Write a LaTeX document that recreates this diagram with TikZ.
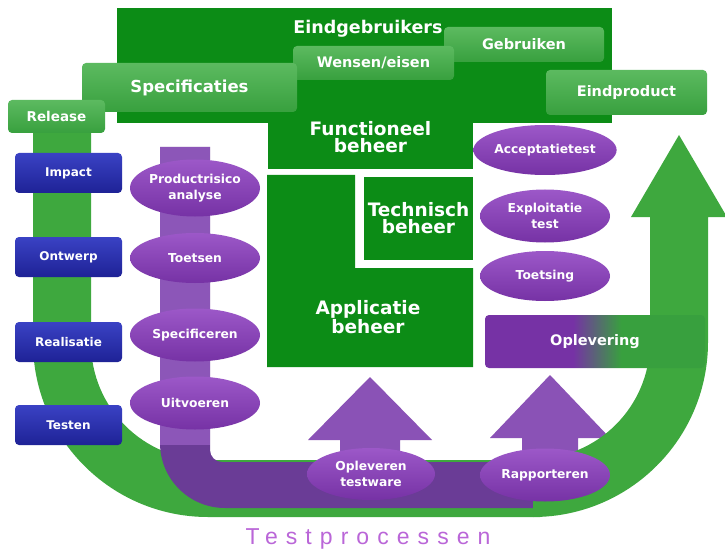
\documentclass[tikz,border=0pt]{standalone}
\usepackage{fontspec}
\setsansfont{DejaVu Sans}
\newfontfamily\titlefont[LetterSpace=35]{Liberation Sans}
\usetikzlibrary{shapes.geometric,positioning,calc}

\definecolor{blokGreen}{RGB}{12,140,22}
\definecolor{boxGreen}{RGB}{56,160,62}
\definecolor{boxGreenTop}{RGB}{92,186,96}
\definecolor{bandGreen}{RGB}{62,168,62}
\definecolor{stapBlue}{RGB}{30,34,150}
\definecolor{stapBlueTop}{RGB}{58,66,196}
\definecolor{procPurple}{RGB}{118,50,165}
\definecolor{procPurpleTop}{RGB}{156,88,200}
\definecolor{bandPurple}{RGB}{106,60,150}
\definecolor{bandPurpleLight}{RGB}{140,86,184}
\definecolor{pijlPurple}{RGB}{138,82,182}
\definecolor{titelPurple}{RGB}{186,102,216}

\pgfdeclarehorizontalshading{oplshade}{100bp}{color(0bp)=(procPurple); color(45bp)=(procPurple); color(56bp)=(boxGreen); color(100bp)=(boxGreen)}

\tikzset{
    blok/.style={fill=blokGreen, inner sep=0pt, text=white, align=center,
                 font=\sffamily\bfseries\fontsize{18.5}{17}\selectfont},
    gbox/.style={rounded corners=4pt, top color=boxGreenTop, bottom color=boxGreen,
                 inner sep=0pt, text=white, font=\sffamily\bfseries\fontsize{14.5}{16}\selectfont},
    stap/.style={rounded corners=4pt, top color=stapBlueTop, bottom color=stapBlue,
                 minimum width=107pt, minimum height=40pt, inner sep=0pt, text=white,
                 font=\sffamily\bfseries\fontsize{12}{14}\selectfont},
    proces/.style={ellipse, top color=procPurpleTop, bottom color=procPurple,
                 minimum width=130pt, minimum height=53pt, inner sep=0pt, text=white, align=center,
                 font=\sffamily\bfseries\fontsize{12.3}{16}\selectfont},
    band/.style={fill=bandGreen},
    pijl/.style={fill=pijlPurple},
}

\begin{document}
\begin{tikzpicture}[x=1pt, y=-1pt]
    \useasboundingbox (0,0) rectangle (725,556);
    \fill[white] (0,0) rectangle (725,556);

    % Green U band, left part
    \path[band] (33,130) -- (33,342) arc (180:90:175) -- (540,517) -- (540,460)
        -- (208,460) arc (90:180:117) -- (91,130) -- cycle;

    % Purple test band
    \path[fill=bandPurple] (160,147) -- (160,443) arc (180:90:65) -- (560,508) -- (560,462)
        -- (222,462) arc (90:180:12) -- (210,147) -- cycle;
    \fill[bandPurpleLight] (160,147) rectangle (210,445);

    % Purple up arrows
    \path[pijl] (340,462) -- (340,440) -- (308,440) -- (370,377) -- (432,440)
        -- (400,440) -- (400,462) -- cycle;
    \path[pijl] (522,462) -- (522,438) -- (490,438) -- (550,375) -- (610,438)
        -- (578,438) -- (578,462) -- cycle;

    % Green U band, right part with arrow
    \path[band] (533,517) arc (90:0:175) -- (708,217) -- (727,217) -- (679,135)
        -- (631,217) -- (650,217) -- (650,342) arc (0:90:117) -- cycle;

    % Oplevering
    \node[rounded corners=4pt, shading=oplshade, minimum width=220pt, minimum height=53pt,
          inner sep=0pt, text=white, font=\sffamily\bfseries\fontsize{14.5}{16}\selectfont]
          (oplevering) at (595,341.5) {Oplevering};

    % Beheer blocks
    \node[blok, minimum width=495pt, minimum height=115pt] (eindgebr) at (364.5,65.5) {};
    \node[blok, minimum width=205pt, minimum height=64pt] (functioneel) at (370.5,137)
          {Functioneel\\beheer};
    \path[fill=blokGreen] (267,175) -- (355,175) -- (355,268) -- (473,268) -- (473,367)
        -- (267,367) -- cycle;
    \node[blok, fill=none] (applicatie) at (368,317) {Applicatie\\beheer};
    \node[blok, minimum width=109pt, minimum height=83pt] (technisch) at (418.5,218.5)
          {Technisch\\beheer};
    \node[text=white, font=\sffamily\bfseries\fontsize{17.5}{18}\selectfont]
          (eindgebrTxt) at (368,29) {Eindgebruikers};

    % Light green boxes
    \node[gbox, minimum width=160pt, minimum height=35pt] (gebruiken) at (524,44.5) {Gebruiken};
    \node[gbox, minimum width=161pt, minimum height=34pt] (wensen) at (373.5,63) {Wensen/eisen};
    \node[gbox, minimum width=161pt, minimum height=45pt] (eindproduct) at (626.5,92.5) {Eindproduct};
    \node[gbox, minimum width=215pt, minimum height=49pt, font=\sffamily\bfseries\fontsize{16.5}{18}\selectfont]
          (specificaties) at (189.5,87.5) {Specificaties};
    \node[gbox, minimum width=97pt, minimum height=33pt, font=\sffamily\bfseries\fontsize{13.5}{15}\selectfont]
          (release) at (56.5,116.5) {Release};

    % Development steps
    \node[stap] (impact) at (68.5,173) {Impact};
    \node[stap] (ontwerp) at (68.5,257) {Ontwerp};
    \node[stap] (realisatie) at (68.5,342) {Realisatie};
    \node[stap] (testen) at (68.5,425) {Testen};

    % Test process, left column
    \node[proces, minimum height=57pt] (risico) at (195,188) {Productrisico\\analyse};
    \node[proces, minimum height=50pt] (toetsen) at (195,258) {Toetsen};
    \node[proces] (specificeren) at (195,335) {Specificeren};
    \node[proces] (uitvoeren) at (195,403) {Uitvoeren};

    % Test process, right column
    \node[proces, minimum height=50pt] (acceptatie) at (545,150) {Acceptatietest};
    \node[proces] (exploitatie) at (545,216) {Exploitatie\\test};
    \node[proces, minimum height=50pt] (toetsing) at (545,276) {Toetsing};

    % Test process, bottom
    \node[proces, minimum width=128pt, minimum height=52pt] (opleveren) at (371,474) {Opleveren\\testware};
    \node[proces] (rapporteren) at (545,475) {Rapporteren};

    % Title
    \node[text=titelPurple, font=\titlefont\fontsize{23}{26}\selectfont] (titel) at (368,539) {Testprocessen};
\end{tikzpicture}
\end{document}
